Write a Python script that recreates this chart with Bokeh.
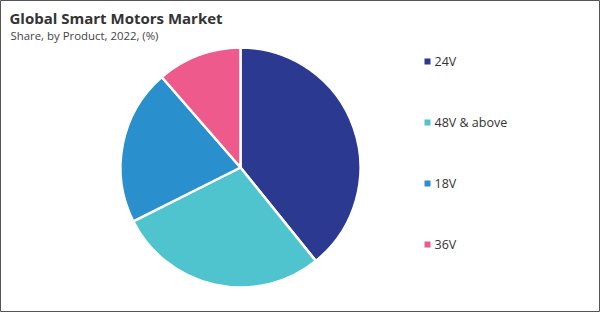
import numpy as np
from bokeh.plotting import figure
from bokeh.models import ColumnDataSource, Range1d
from bokeh.core.properties import value
from bokeh.embed import file_html
from bokeh.resources import INLINE

title = "Global Smart Motors Market"
subtitle = "Share, by Product, 2022, (%)"
categories = ["24V", "48V & above", "18V", "36V"]
shares = [39.2, 28.4, 21.0, 11.4]
colors = ["#2B3990", "#4FC4CF", "#2A8FCD", "#EE5A8B"]

W, H = 600, 312
p = figure(width=W, height=H, output_backend="svg", toolbar_location=None,
           x_axis_location=None, y_axis_location=None, min_border=0,
           x_range=Range1d(0, W), y_range=Range1d(0, H))
p.grid.visible = False
p.outline_line_color = "#555555"
p.outline_line_width = 1
p.background_fill_color = "white"
p.border_fill_color = "white"

frac = np.array(shares) / sum(shares)
cum = np.concatenate([[0], np.cumsum(frac)])
start = np.pi / 2 - cum[:-1] * 2 * np.pi
end = np.pi / 2 - cum[1:] * 2 * np.pi

cx, cy, r = 240, H - 167, 120
src = ColumnDataSource(dict(start=start, end=end, color=colors, cat=categories))
p.wedge(x=cx, y=cy, radius=r, start_angle="start", end_angle="end", direction="clock",
        fill_color="color", line_color="white", line_width=2.5, source=src)

# legend
ly = [H - 61, H - 122, H - 183, H - 244]
lsrc = ColumnDataSource(dict(y=ly, color=colors, cat=categories))
p.scatter(x=427, y="y", marker="square", size=6, fill_color="color", line_color=None, source=lsrc)
p.text(x=434, y="y", text="cat", text_font=value("Open Sans"), text_font_size="12.5px",
       text_color="#333333", text_baseline="middle", source=lsrc)

p.text(x=[9], y=[H - 17], text=[title], text_font=value("Open Sans"), text_font_style="bold",
       text_font_size="15px", text_color="#333333", text_baseline="middle")
p.text(x=[10], y=[H - 35], text=[subtitle], text_font=value("Open Sans"),
       text_font_size="11.4px", text_color="#444444", text_baseline="middle")

open("out.html", "w").write(file_html(p, INLINE))
